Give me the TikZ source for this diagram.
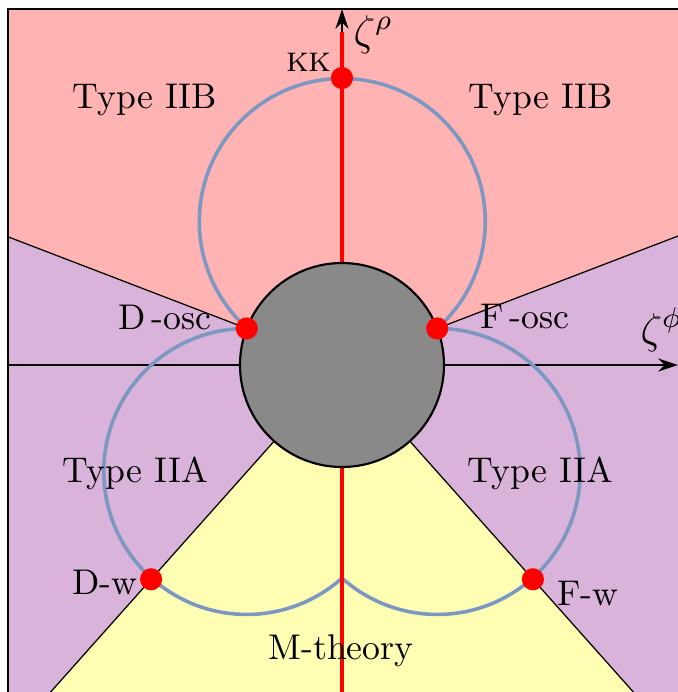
\documentclass[tikz,border=0pt]{standalone}
\usepackage{amsmath,amssymb}
\usetikzlibrary{arrows.meta,calc}
\definecolor{regionIIB}{HTML}{FFB3B3}
\definecolor{regionIIA}{HTML}{D9B3D9}
\definecolor{regionM}{HTML}{FFFFB3}
\definecolor{limitblue}{HTML}{7B97C2}
\definecolor{coregray}{HTML}{898989}
\tikzset{
  limitcurve/.style={limitblue,line width=1pt},
  limitdot/.style={circle,fill=red,inner sep=0pt,minimum size=6.2pt},
  axisline/.style={line width=0.8pt,-{Stealth[length=5.5pt,width=3.6pt]}},
  boundary/.style={line width=0.35pt},
}
\begin{document}
\begin{tikzpicture}[x=0.28pt,y=0.28pt]
        \useasboundingbox(-342,-327)rectangle(336,365);
        % regions
        \begin{scope}
          \clip(-334,-340)rectangle(345,356);
          \fill[regionIIA](-334,-340)rectangle(345,356);
          \fill[regionIIB](0,0)--(159:1000)--(90:1000)--(21:1000)--cycle;
          \fill[regionM](0,0)--(228.3:1000)--(270:1000)--(311.7:1000)--cycle;
          \draw[boundary](0,0)--(159:1000);
          \draw[boundary](0,0)--(21:1000);
          \draw[boundary](0,0)--(228.3:1000);
          \draw[boundary](0,0)--(311.7:1000);
        \end{scope}
        \draw[boundary](-334,-340)rectangle(345,356);
        % axes
        \coordinate(phiL)at(-334,0);
        \coordinate(phiR)at(336,0);
        \coordinate(rhoB)at(0,-327);
        \coordinate(rhoT)at(0,356);
        \draw[axisline](phiL)--(phiR);
        \draw[axisline](rhoB)--(rhoT);
        \node[anchor=base west,inner sep=0pt,font=\large]at(11,320){$\zeta^\rho$};
        \node[anchor=base west,inner sep=0pt,font=\large]at(298,22){$\zeta^\phi$};
        % limit points
        \coordinate(Dosc)at(159:102);
        \coordinate(Fosc)at(21:102);
        \coordinate(Dw)at(228.3:287);
        \coordinate(Fw)at(-48.3:287);
        \coordinate(KK)at(0,287);
        \coordinate(redT)at(0,333);
        \coordinate(redB)at(0,-330);
        % curves
        \draw[limitcurve](Fosc)arc[start angle=-48.4,end angle=228.4,radius=143];
        \draw[limitcurve](Dosc)arc[start angle=90,end angle=311.7,radius=143];
        \draw[limitcurve](Fosc)arc[start angle=90,end angle=-131.7,radius=143];
        \draw[red,line width=1.2pt](redB)--(redT);
        \filldraw[fill=coregray,draw=black,line width=0.6pt](0,0)circle(102);
        \node[limitdot](kk)at(KK){};
        \node[limitdot](dosc)at(Dosc){};
        \node[limitdot](fosc)at(Fosc){};
        \node[limitdot](dw)at(Dw){};
        \node[limitdot](fw)at(Fw){};
        % labels
        \node(IIBl)at(-197,265){Type IIB};
        \node(IIBr)at(199,265){Type IIB};
        \node(IIAl)at(-207,-108){Type IIA};
        \node(IIAr)at(198,-108){Type IIA};
        \node(Mth)at(-1,-286){M-theory};
        \node(kklab)at(-33,303){\textsc{kk}};
        \node(doscl)at(-177,48){D\,-osc};
        \node(foscl)at(183,48){F\,-osc};
        \node(dwl)at(-237,-217){D-w};
        \node(fwl)at(246,-229){F-w};
      \end{tikzpicture}
\end{document}
